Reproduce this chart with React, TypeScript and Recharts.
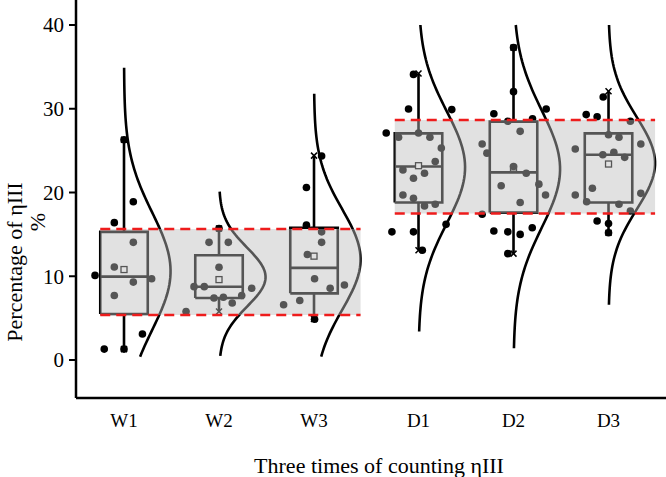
import {
  ComposedChart,
  Line,
  Scatter,
  XAxis,
  YAxis,
  ReferenceArea,
  ReferenceLine,
} from "recharts";

const FONT = "'Liberation Serif', 'Times New Roman', serif";

// groups and where they sit on the x scale (the D group is set a little apart)
const groups = ["W1", "W2", "W3", "D1", "D2", "D3"];
const positions = [1, 2, 3, 4.1, 5.1, 6.1];

// box plot summary, per group
const whiskerMin = [1.3, 5.8, 4.9, 13.1, 12.7, 15.2];
const q1 = [5.5, 7.4, 7.96, 18.8, 17.6, 18.8];
const median = [9.95, 8.75, 11.0, 23.1, 22.4, 24.5];
const q3 = [15.3, 12.5, 15.8, 27.06, 28.46, 27.06];
const whiskerMax = [26.3, 15.7, 24.4, 34.2, 37.3, 32.1];
const means = [10.8, 9.6, 12.4, 23.2, 22.9, 23.4];

// normal curves drawn beside each box
const curveMean = [10.6, 9.9, 12.0, 23.0, 22.8, 23.5];
const curveSd = [7.0, 3.5, 6.0, 6.7, 7.0, 5.5];
const curveLow = [0.4, 0.5, 0.4, 3.4, 1.4, 6.6];
const curveHigh = [34.9, 20.1, 31.8, 40, 40, 40];

// shaded bands (first group, last group, low, high)
const bandFirst = [0, 3];
const bandLast = [2, 5];
const bandLow = [5.37, 17.5];
const bandHigh = [15.64, 28.66];

// jittered observations: [x offset, value]
const w1Points = [
  [0, 26.3], [0.098, 18.9], [-0.102, 16.4], [0.098, 14.05], [-0.102, 11.1], [-0.305, 10.1],
  [0.098, 9.3], [0.291, 9.7], [-0.102, 7.7], [0.194, 3.1], [-0.208, 1.3], [0, 1.3],
];
const w2Points = [
  [0, 15.7], [-0.105, 14.05], [0.098, 14.05], [0, 11.07], [-0.263, 8.76], [-0.155, 8.76],
  [0.344, 8.56], [0.239, 7.7], [0.046, 7.5], [-0.053, 7.4], [0.139, 6.8], [-0.347, 5.8],
];
const w3Points = [
  [0.08, 24.36], [-0.08, 20.6], [-0.08, 16.1], [0.08, 15.3], [0.08, 14.05], [-0.07, 12.6],
  [0.006, 9.7], [0.32, 8.96], [0.17, 8.56], [-0.15, 7.1], [-0.32, 6.6], [0.006, 4.86],
];
const d1Points = [
  [-0.053, 34.1], [-0.105, 29.97], [0.35, 29.9], [-0.34, 27.1], [0, 27.1], [-0.21, 26.6],
  [0.12, 26.6], [0.24, 25.3], [0.176, 23.7], [-0.164, 22.7], [0.063, 22.3], [-0.053, 21.7],
  [-0.164, 19.7], [-0.053, 19.3], [0.063, 18.4], [0.176, 18.6], [0.29, 16.2], [-0.28, 15.3],
  [-0.053, 15.3], [0.04, 13.1],
];
const d2Points = [
  [0, 37.3], [0, 32.04], [-0.207, 29.4], [0.344, 29.97], [0.2, 28.8], [-0.06, 28.5],
  [0.07, 27.3], [-0.33, 25.8], [-0.28, 24.7], [0, 23.1], [0.134, 22.3], [-0.13, 20.8],
  [0.267, 21.0], [0.337, 19.7], [0.07, 18.8], [-0.33, 17.4], [-0.207, 15.4], [-0.06, 15.3],
  [0.07, 15.0], [0.197, 15.8], [-0.06, 12.7],
];
const d3Points = [
  [-0.056, 31.4], [-0.235, 29.3], [-0.12, 29.05], [0.23, 28.5], [0, 26.9], [0.11, 26.6],
  [-0.35, 25.2], [0.34, 25.8], [-0.06, 24.5], [0.056, 24.8], [0.17, 24.2], [-0.17, 20.5],
  [-0.35, 19.7], [0.34, 19.9], [-0.23, 18.9], [0.11, 18.6], [0.23, 17.8], [-0.12, 16.6],
  [0, 16.3], [0, 15.2],
];
const groupPoints = [w1Points, w2Points, w3Points, d1Points, d2Points, d3Points];

const yTicks = [0, 10, 20, 30, 40];

const BOX_HALF = 0.25;
const CURVE_AMP = 0.49;
const CURVE_STEPS = 80;

function curveData(g: number) {
  const pts = [];
  for (let i = 0; i <= CURVE_STEPS; i++) {
    const v = curveLow[g] + ((curveHigh[g] - curveLow[g]) * i) / CURVE_STEPS;
    const z = (v - curveMean[g]) / curveSd[g];
    pts.push({ x: positions[g] + CURVE_AMP * Math.exp(-0.5 * z * z), y: v });
  }
  return pts;
}

function boxData(g: number) {
  const p = positions[g];
  const l = p - BOX_HALF;
  const r = p + BOX_HALF;
  return [
    { x: l, y: q1[g] }, { x: r, y: q1[g] }, { x: r, y: q3[g] }, { x: l, y: q3[g] }, { x: l, y: q1[g] },
    { x: l, y: null },
    { x: l, y: median[g] }, { x: r, y: median[g] },
    { x: r, y: null },
    { x: p, y: q3[g] }, { x: p, y: whiskerMax[g] },
    { x: p, y: null },
    { x: p, y: q1[g] }, { x: p, y: whiskerMin[g] },
  ];
}

const pointData = groupPoints.flatMap((pts, g) =>
  pts.map(([off, v]) => ({ x: positions[g] + off, y: v }))
);
const meanData = means.map((m, g) => ({ x: positions[g], y: m }));
const endData = positions.flatMap((p, g) => [
  { x: p, y: whiskerMin[g] },
  { x: p, y: whiskerMax[g] },
]);

const Dot = (props: any) => <circle cx={props.cx} cy={props.cy} r={3.8} fill="#000" />;
const MeanMark = (props: any) => (
  <rect x={props.cx - 3} y={props.cy - 3} width={6} height={6} fill="#fff" stroke="#000" strokeWidth={1.3} />
);
const Cross = (props: any) => (
  <path
    d={`M${props.cx - 3},${props.cy - 3}L${props.cx + 3},${props.cy + 3}M${props.cx - 3},${props.cy + 3}L${props.cx + 3},${props.cy - 3}`}
    stroke="#000"
    strokeWidth={1.5}
  />
);

const YTitle = () => (
  <g>
    <text x={14} y={262} transform="rotate(-90 14 262)" textAnchor="middle" dominantBaseline="central"
      fontFamily={FONT} fontSize={22} fill="#000">
      Percentage of ηIII
    </text>
    <text x={37} y={222} transform="rotate(-90 37 222)" textAnchor="middle" dominantBaseline="central"
      fontFamily={FONT} fontSize={22} fill="#000">
      %
    </text>
  </g>
);

const XTitle = () => (
  <text x={379} y={465} textAnchor="middle" dominantBaseline="central" fontFamily={FONT} fontSize={22} fill="#000">
    Three times of counting ηIII
  </text>
);

export default function App() {
  return (
    <div style={{ position: "absolute", left: 0, top: 0, width: 666, height: 477, background: "#fff" }}>
      <ComposedChart width={666} height={477} margin={{ top: 0, right: 0, bottom: 0, left: 0 }}>
        <XAxis
          type="number"
          dataKey="x"
          domain={[0.4947, 6.705]}
          allowDataOverflow
          ticks={positions}
          tickFormatter={(_v: number, i: number) => groups[i]}
          tickSize={0}
          tickMargin={16}
          height={79}
          axisLine={{ stroke: "#000", strokeWidth: 2.5 }}
          tick={{ fill: "#000", fontSize: 19, fontFamily: FONT }}
          label={<XTitle />}
        />
        <YAxis
          type="number"
          dataKey="y"
          domain={[-4.537, 42.985]}
          allowDataOverflow
          ticks={yTicks}
          width={76}
          tickSize={7}
          tickMargin={5}
          axisLine={{ stroke: "#000", strokeWidth: 2.5 }}
          tickLine={{ stroke: "#000", strokeWidth: 2 }}
          tick={{ fill: "#000", fontSize: 21, fontFamily: FONT }}
          label={<YTitle />}
        />
        {groups.map((g, i) => (
          <Line
            key={`curve-${g}`}
            data={curveData(i)}
            dataKey="y"
            type="linear"
            stroke="#000"
            strokeWidth={2.6}
            dot={false}
            activeDot={false}
            isAnimationActive={false}
          />
        ))}
        {groups.map((g, i) => (
          <Line
            key={`box-${g}`}
            data={boxData(i)}
            dataKey="y"
            type="linear"
            stroke="#000"
            strokeWidth={2.6}
            dot={false}
            activeDot={false}
            connectNulls={false}
            isAnimationActive={false}
          />
        ))}
        <Scatter data={meanData} dataKey="y" shape={MeanMark} isAnimationActive={false} />
        <Scatter data={pointData} dataKey="y" shape={Dot} isAnimationActive={false} />
        <Scatter data={endData} dataKey="y" shape={Cross} isAnimationActive={false} />
        {bandLow.map((lo, b) => (
          <ReferenceArea
            key={`band-${b}`}
            x1={positions[bandFirst[b]] - BOX_HALF}
            x2={positions[bandLast[b]] + CURVE_AMP}
            y1={lo}
            y2={bandHigh[b]}
            fill="#bdbdbd"
            fillOpacity={0.45}
            stroke="none"
            zIndex={650}
          />
        ))}
        {bandLow.flatMap((lo, b) =>
          [lo, bandHigh[b]].map((v, k) => (
            <ReferenceLine
              key={`dash-${b}-${k}`}
              segment={[
                { x: positions[bandFirst[b]] - BOX_HALF, y: v },
                { x: positions[bandLast[b]] + CURVE_AMP, y: v },
              ]}
              stroke="#ee1c1c"
              strokeWidth={2.6}
              strokeDasharray="10 6"
              zIndex={700}
            />
          ))
        )}
      </ComposedChart>
    </div>
  );
}
